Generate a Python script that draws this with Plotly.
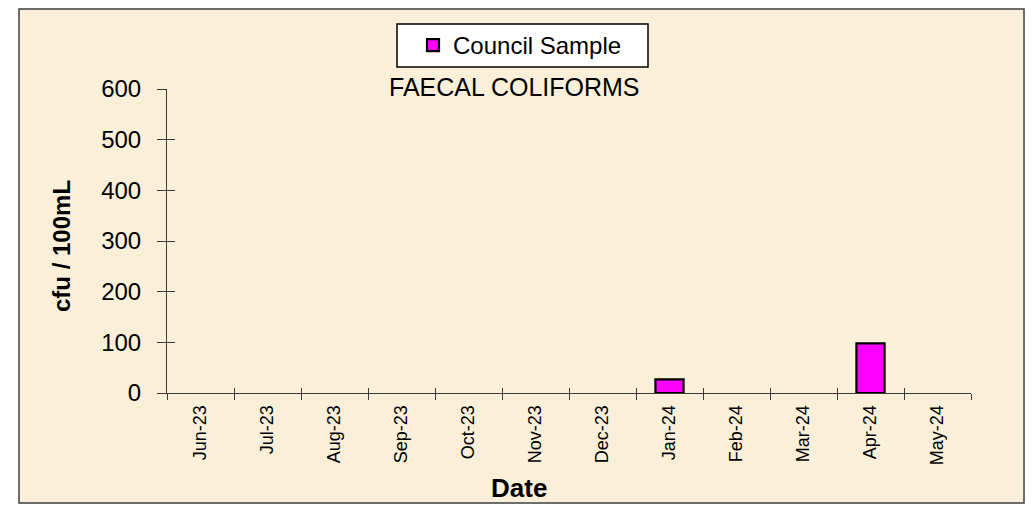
import plotly.graph_objects as go

months = ["Jun-23", "Jul-23", "Aug-23", "Sep-23", "Oct-23", "Nov-23",
          "Dec-23", "Jan-24", "Feb-24", "Mar-24", "Apr-24", "May-24"]
council_sample = [None, None, None, None, None, None,
                  None, 27, None, None, 98, None]
y_ticks = [0, 100, 200, 300, 400, 500, 600]

OFF = 8                      # page body margin
W, H = 1033 - 2 * OFF, 512 - 2 * OFF
L, R, T, B = 167, 971, 89, 393  # plot area in page pixels


def px(x):
    return (x - L) / (R - L)


def py(y):
    return (B - y) / (B - T)


FONT = "Liberation Sans, Arial, sans-serif"
AX = "#3a3a3a"

fig = go.Figure()
fig.add_trace(go.Bar(
    x=months, y=council_sample, name="Council Sample", width=0.42,
    marker=dict(color="#FF00FF", line=dict(color="black", width=2.2)),
))
# invisible twin for inner tick marks
fig.add_trace(go.Bar(
    x=months, y=council_sample, xaxis="x2", yaxis="y2", width=0.42,
    marker=dict(color="rgba(0,0,0,0)", line=dict(width=0)),
    showlegend=False, hoverinfo="skip",
))

fig.update_layout(
    width=W, height=H,
    margin=dict(l=L - OFF, r=W + OFF - R, t=T - OFF, b=H + OFF - B),
    paper_bgcolor="white",
    plot_bgcolor="rgba(0,0,0,0)",
    font=dict(family=FONT, color="black"),
    showlegend=True,
    legend=dict(x=px(413), y=py(45.5), xanchor="left", yanchor="middle",
                bgcolor="rgba(0,0,0,0)", borderwidth=0,
                font=dict(size=24, family=FONT)),
    xaxis=dict(type="category", categoryorder="array", categoryarray=months,
               tickson="boundaries", ticks="outside", ticklen=6, tickwidth=1,
               tickcolor=AX, showline=True, linecolor=AX, linewidth=1,
               showgrid=False, tickangle=-90, tickfont=dict(size=18),
               ticklabelstandoff=4, zeroline=False),
    yaxis=dict(range=[0, 600], tickvals=y_ticks, ticks="outside", ticklen=9,
               tickwidth=1, tickcolor=AX, showline=True, linecolor=AX,
               linewidth=1, showgrid=False, zeroline=False,
               tickfont=dict(size=24), ticklabelstandoff=11),
    xaxis2=dict(type="category", categoryorder="array", categoryarray=months,
                overlaying="x", anchor="y2", tickson="boundaries",
                ticks="inside", ticklen=5, tickwidth=1, tickcolor=AX,
                showticklabels=False, showline=False, showgrid=False),
    yaxis2=dict(range=[0, 600], tickvals=y_ticks, overlaying="y",
                anchor="x2", ticks="inside", ticklen=8, tickwidth=1,
                tickcolor=AX, showticklabels=False, showline=False,
                showgrid=False, zeroline=False),
    shapes=[
        dict(type="rect", xref="paper", yref="paper", layer="below",
             x0=px(19), x1=px(1024), y0=py(503), y1=py(9),
             fillcolor="#FAF0DA", line=dict(color="#404040", width=1.5)),
        dict(type="rect", xref="paper", yref="paper", layer="below",
             x0=px(397), x1=px(648), y0=py(67), y1=py(24),
             fillcolor="white", line=dict(color="black", width=1.5)),
    ],
    annotations=[
        dict(text="FAECAL COLIFORMS", xref="paper", yref="paper",
             x=px(514), y=py(87), xanchor="center", yanchor="middle",
             showarrow=False, font=dict(size=25, family=FONT)),
        dict(text="<b>cfu / 100mL</b>", xref="paper", yref="paper",
             x=px(61), y=py(246), xanchor="center", yanchor="middle",
             textangle=-90, showarrow=False, font=dict(size=24, family=FONT)),
        dict(text="<b>Date</b>", xref="paper", yref="paper",
             x=px(519), y=py(488), xanchor="center", yanchor="middle",
             showarrow=False, font=dict(size=26, family=FONT)),
    ],
)

fig.write_html("out.html")
